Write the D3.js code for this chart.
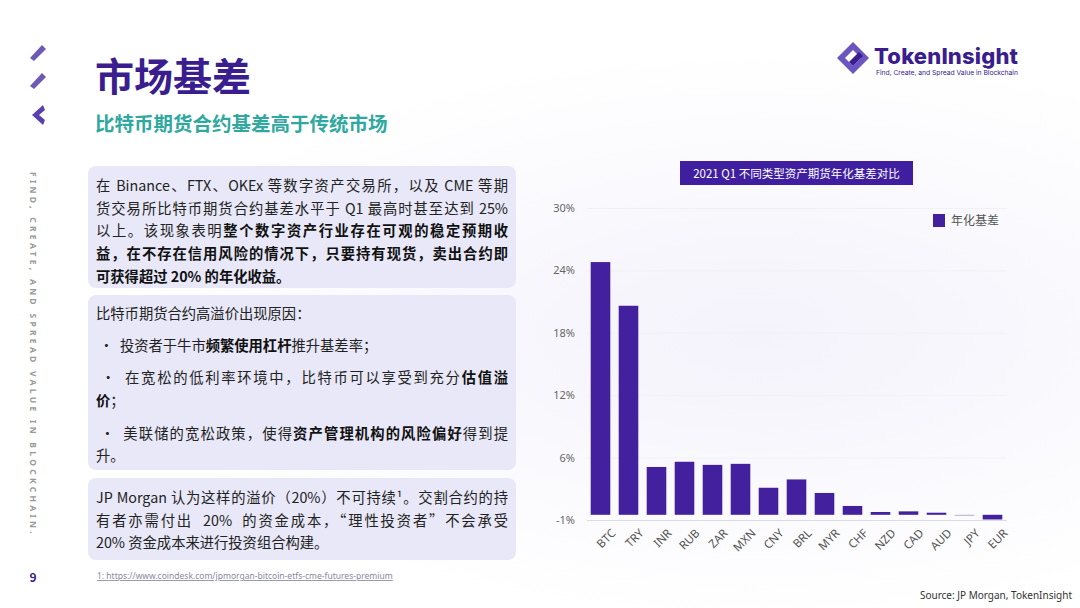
<!DOCTYPE html>
<html><head><meta charset="utf-8">
<script src="https://cdn.jsdelivr.net/npm/d3@7"></script>
<style>
body{margin:0;width:1080px;height:608px;overflow:hidden;font-family:"Noto Sans CJK SC","Noto Sans",sans-serif;background:#fff;}
#page{position:relative;width:1080px;height:608px;background:radial-gradient(ellipse at 70% 55%,#f4f2fb 0%,#ffffff 60%);}
.box{position:absolute;left:88px;width:428px;background:#e8e8f8;border-radius:8px;box-sizing:border-box;padding:8px 8px 0 8px;font-size:14.3px;color:#222;}
.ln{text-align:justify;text-align-last:justify;white-space:nowrap;height:22.7px;line-height:22.7px;}
.ll{text-align:left;text-align-last:left;}
b{font-weight:700;color:#111;}
svg{position:absolute;left:0;top:0;}
</style></head><body>
<div id="page">
<div class="box" style="top:166px;height:122px;">
<div class="ln">在 Binance、FTX、OKEx 等数字资产交易所，以及 CME 等期</div>
<div class="ln">货交易所比特币期货合约基差水平于 Q1 最高时甚至达到 25%</div>
<div class="ln">以上。该现象表明<b>整个数字资产行业存在可观的稳定预期收</b></div>
<div class="ln"><b>益，在不存在信用风险的情况下，只要持有现货，卖出合约即</b></div>
<div class="ln ll"><b>可获得超过 20% 的年化收益。</b></div>
</div>
<div class="box" style="top:295px;height:175px;padding-top:7px;">
<div class="ln ll" style="margin-bottom:9px">比特币期货合约高溢价出现原因：</div>
<div class="ln ll" style="margin-bottom:10px">&nbsp;•&nbsp; 投资者于牛市<b>频繁使用杠杆</b>推升基差率；</div>
<div class="ln">&nbsp;•&nbsp; 在宽松的低利率环境中，比特币可以享受到充分<b>估值溢</b></div>
<div class="ln ll" style="margin-bottom:10px"><b>价</b>；</div>
<div class="ln">&nbsp;•&nbsp; 美联储的宽松政策，使得<b>资产管理机构的风险偏好</b>得到提</div>
<div class="ln ll">升。</div>
</div>
<div class="box" style="top:478px;height:82px;">
<div class="ln">JP Morgan 认为这样的溢价（20%）不可持续¹。交割合约的持</div>
<div class="ln">有者亦需付出&nbsp; 20%&nbsp; 的资金成本，“理性投资者”不会承受</div>
<div class="ln ll">20% 资金成本来进行投资组合构建。</div>
</div>
</div>
<script>
const categories = ['BTC','TRY','INR','RUB','ZAR','MXN','CNY','BRL','MYR','CHF','NZD','CAD','AUD','JPY','EUR'];
const basisValues = [24.3,20.1,4.6,5.1,4.8,4.9,2.6,3.4,2.1,0.85,0.27,0.33,0.2,-0.1,-0.45];
const tickValues = [-0.5,5.5,11.5,17.5,23.5,29.5];
const tickLabels = ['-1%','6%','12%','18%','24%','30%'];

const purple = '#43219e';
const svg = d3.select('#page').append('svg').attr('width',1080).attr('height',608);

// left decorations
[[37,50],[37,78],[37,112]].forEach(([x,y],i)=>{
  svg.append('path').attr('d', i<2 ? `M${x-7},${y+8} L${x+5},${y-5} L${x+9},${y-1} L${x-3},${y+11}Z`
    : `M${x+6},${y-7} L${x-5},${y+3} L${x+6},${y+13} L${x+8},${y+8} L${x+2},${y+3} L${x+8},${y-2}Z`)
    .attr('fill', i<2 ? '#6d5ab5' : '#5a3fb0');
});
svg.append('text').attr('x',95).attr('y',91).attr('font-size',39).attr('font-weight',700).attr('fill','#3a1d8e').text('市场基差');
svg.append('text').attr('x',95).attr('y',131).attr('font-size',19.5).attr('font-weight',700).attr('fill','#2fa89f').text('比特币期货合约基差高于传统市场');
svg.append('text').attr('transform','translate(30,172) rotate(90)').attr('font-size',8.5).attr('font-weight',700).attr('letter-spacing','3.3px').attr('fill','#999').attr('font-family','Noto Sans').text('FIND, CREATE, AND SPREAD VALUE IN BLOCKCHAIN.');
svg.append('text').attr('x',33).attr('y',582).attr('font-size',12).attr('font-weight',700).attr('fill','#3a1d8e').attr('text-anchor','middle').text('9');
svg.append('text').attr('x',97).attr('y',579).attr('font-size',8.5).attr('fill','#8a8aa0').attr('text-decoration','underline').attr('font-family','Noto Sans').text('1: https://www.coindesk.com/jpmorgan-bitcoin-etfs-cme-futures-premium');
svg.append('text').attr('x',1072).attr('y',599).attr('font-size',10).attr('fill','#333').attr('text-anchor','end').attr('font-family','Noto Sans').text('Source: JP Morgan, TokenInsight');

// logo
const lg = svg.append('g').attr('transform','translate(853,58)');
lg.append('path').attr('d','M0,-16 L16,0 L0,16 L-16,0Z M0,-8 L-8,0 L0,8 L8,0Z').attr('fill','#6b55c0').attr('fill-rule','evenodd');
lg.append('path').attr('d','M-4,4 L6,-6 L10,-2 L0,8Z').attr('fill','#3a1d8e');
svg.append('text').attr('x',874).attr('y',64).attr('font-size',22).attr('font-weight',800).attr('fill','#3a1d8e').attr('font-family','Inter').attr('textLength',144).text('TokenInsight');
svg.append('text').attr('x',876).attr('y',75).attr('font-size',6.8).attr('fill','#3a1d8e').attr('font-family','Inter').attr('textLength',142).text('Find, Create, and Spread Value in Blockchain');

// chart
const x = d3.scaleBand().domain(categories).range([586.5,1006.5]).paddingInner(0.3).paddingOuter(0.15);
const y = d3.scaleLinear().domain([-0.5,29.5]).range([520,208]);

svg.append('rect').attr('x',680).attr('y',161).attr('width',233).attr('height',24).attr('fill','#3f1fa0');
svg.append('text').attr('x',796.5).attr('y',178).attr('font-size',11.5).attr('fill','#fff').attr('text-anchor','middle').text('2021 Q1 不同类型资产期货年化基差对比');

const yAxis = svg.append('g').attr('transform','translate(587,0)')
  .call(d3.axisLeft(y).tickValues(tickValues).tickSize(-420).tickFormat((d,i)=>tickLabels[i]));
yAxis.select('.domain').remove();
yAxis.selectAll('line').attr('stroke',(d,i)=>i===0?'#dcdce6':'#f1f1f5');
yAxis.selectAll('text').attr('x',-12).attr('fill','#666').attr('font-size',11).attr('font-family','Noto Sans');

svg.selectAll('.bar').data(categories).enter().append('rect').attr('class','bar')
  .attr('x',d=>x(d)).attr('width',x.bandwidth())
  .attr('y',(d,i)=>y(Math.max(0,basisValues[i])))
  .attr('height',(d,i)=>Math.max(1,Math.abs(y(basisValues[i])-y(0))))
  .attr('fill',(d,i)=>categories[i]==='JPY'?'#b8b0d8':purple);

const xAxis = svg.append('g').attr('transform','translate(0,522)').call(d3.axisBottom(x).tickSize(0));
xAxis.select('.domain').remove();
xAxis.selectAll('text').attr('font-size',11.5).attr('fill','#555').attr('font-family','Noto Sans')
  .attr('text-anchor','end').attr('transform','translate(8,4) rotate(-45)');

svg.append('rect').attr('x',933).attr('y',214).attr('width',12).attr('height',13).attr('fill',purple);
svg.append('text').attr('x',951).attr('y',225).attr('font-size',12).attr('fill','#555').text('年化基差');
</script>
</body></html>
